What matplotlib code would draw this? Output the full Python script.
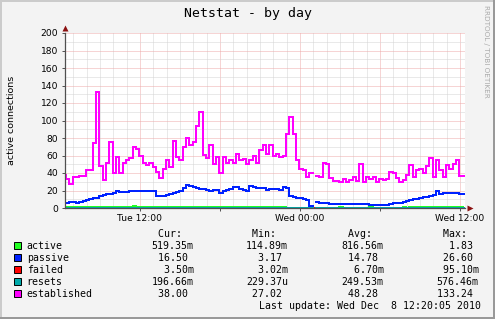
import numpy as np
import pandas as pd
import matplotlib
matplotlib.use("Agg")
import matplotlib.pyplot as plt
import matplotlib.dates as mdates
from matplotlib.ticker import MultipleLocator, FuncFormatter
from matplotlib.patches import Rectangle

# -----------------------------
# Data (15 minute samples)
# -----------------------------
start = "2010-12-07 06:20"
nan = np.nan

established = [
    38, 33, 28, 36, 36, 37, 37, 43, 44, 74,
    133, 48, 32, 52, 76, 40, 58, 40, 51, 55,
    57, 70, 68, 60, 51, 49, 52, 47, 41, 34,
    45, 55, 47, 77, 58, 55, 70, 80, 72, 76,
    94, 110, 61, 57, 72, 50, 58, 40, 58, 52,
    55, 52, 62, 55, 56, 50, 55, 60, 52, 66,
    72, 62, 72, 60, 62, 58, 60, 85, 104, 85,
    55, 45, 43, 36, 40, nan, 37, 35, 52, 50,
    34, 31, 31, 30, 33, 30, 32, 35, 31, 50,
    30, 35, 33, 36, 30, 33, 32, 33, 41, 40,
    34, 30, 32, 38, 49, 36, 43, 45, 40, 48,
    57, 36, 55, 44, 36, 49, 45, 50, 55, 37, 37,
]

passive = [
    5.5, 5.5, 6.5, 6.5, 6.0, 6.5, 7.5, 9.0, 10.0, 11.5,
    12.0, 14.0, 14.5, 16.0, 16.0, 17.5, 19.0, 18.5, 18.0, 18.5,
    19.5, 20.0, 19.5, 20.0, 19.5, 20.0, 19.5, 19.0, 14.0, 14.0,
    14.0, 15.0, 16.5, 17.5, 18.5, 20.0, 23.0, 26.0, 25.5, 24.0,
    23.0, 22.0, 22.0, 20.5, 20.0, 21.0, 20.5, 17.0, 20.0, 21.0,
    22.0, 23.5, 23.5, 22.0, 20.5, 20.0, 25.0, 24.5, 22.5, 23.0,
    22.5, 21.0, 22.0, 21.5, 22.0, 21.0, 23.5, 23.0, 13.5, 12.5,
    11.5, 11.0, 10.5, 9.5, 2.0, nan, 6.5, 6.0, 5.5, 5.3,
    5.0, 4.6, 4.6, 5.0, 4.6, 5.0, 4.6, 5.0, 4.6, 5.0,
    4.6, 4.6, 4.0, 3.4, 3.4, 3.4, 3.4, 3.4, 4.6, 5.3,
    5.7, 5.7, 6.5, 7.6, 9.0, 10.3, 10.5, 11.4, 12.2, 13.0,
    14.0, 15.2, 19.5, 16.0, 17.6, 17.6, 17.0, 17.0, 17.0, 16.0, 15.5,
]

active = [
    0.6, 0.6, 0.7, 0.6, 0.6, 0.7, 0.6, 0.6, 0.7, 0.6,
    0.7, 0.6, 0.6, 0.7, 0.6, 0.6, 0.7, 0.6, 0.6, 0.7,
    0.6, 1.8, 0.6, 0.7, 0.6, 0.6, 0.7, 0.6, 0.6, 0.7,
    0.6, 0.6, 0.7, 0.6, 0.6, 0.7, 0.6, 0.6, 0.7, 0.6,
    0.7, 0.6, 0.6, 0.7, 0.6, 0.6, 0.7, 0.6, 0.6, 0.7,
    1.5, 0.6, 0.6, 0.7, 0.6, 0.6, 0.7, 0.6, 0.6, 0.7,
    0.6, 0.9, 0.9, 0.8, 0.9, 0.9, 0.8, 0.4, 0.3, 0.3,
    0.3, 0.2, 0.2, 0.3, 0.2, nan, 0.2, 0.3, 0.2, 0.2,
    0.3, 0.2, 0.2, 1.2, 0.2, 0.3, 0.2, 0.2, 0.3, 0.2,
    0.2, 0.3, 1.0, 0.2, 0.2, 0.3, 0.2, 0.2, 0.3, 0.2,
    0.2, 0.3, 1.0, 0.2, 0.9, 0.9, 0.8, 0.9, 0.9, 0.8,
    0.9, 0.9, 0.8, 0.9, 0.9, 0.8, 0.9, 0.9, 0.8, 0.9, 0.5,
]

failed = [0.0] * 121

resets = [
    0.2, 0.3, 0.2, 0.2, 0.3, 0.2, 0.2, 0.3, 0.2, 0.2,
    0.3, 0.2, 0.2, 0.3, 0.2, 0.2, 0.3, 0.2, 0.2, 0.3,
    0.2, 0.2, 0.3, 0.2, 0.2, 0.3, 0.2, 0.2, 0.3, 0.2,
    0.2, 0.3, 0.2, 0.2, 0.3, 0.2, 0.2, 0.3, 0.2, 0.2,
    0.3, 0.2, 0.2, 0.3, 0.2, 0.2, 0.3, 0.2, 0.2, 0.3,
    0.2, 0.2, 0.3, 0.2, 0.2, 0.3, 0.2, 0.2, 0.3, 0.2,
    0.2, 0.3, 0.2, 0.2, 0.3, 0.2, 0.2, 0.3, 0.4, 0.5,
    0.4, 0.4, 0.5, 0.4, 0.4, nan, 0.4, 0.5, 0.4, 0.4,
    0.5, 0.4, 0.4, 0.5, 0.4, 0.4, 0.5, 0.4, 0.4, 0.5,
    0.4, 0.4, 0.5, 0.4, 0.4, 0.5, 0.4, 0.4, 0.5, 0.4,
    0.4, 0.5, 0.4, 0.2, 0.2, 0.3, 0.2, 0.2, 0.3, 0.2,
    0.2, 0.3, 0.2, 0.2, 0.3, 0.2, 0.2, 0.3, 0.2, 0.2, 0.2,
]

series_names = ["active", "passive", "failed", "resets", "established"]
series_colors = ["#22ff22", "#0022ff", "#ff0000", "#00aaaa", "#ff00ff"]
series_values = [active, passive, failed, resets, established]

stat_cur = ["519.35m", " 16.50 ", "  3.50m", "196.66m", " 38.00 "]
stat_min = ["114.89m", "  3.17 ", "  3.02m", "229.37u", " 27.02 "]
stat_avg = ["816.56m", " 14.78 ", "  6.70m", "249.53m", " 48.28 "]
stat_max = ["  1.83 ", " 26.60 ", " 95.10m", "576.46m", "133.24 "]
stat_heads = [" Cur:", " Min:", " Avg:", " Max:"]

times = pd.date_range(start, periods=len(established), freq="15min").to_pydatetime()
x_start = pd.Timestamp("2010-12-07 06:22:30").to_pydatetime()
x_end = pd.Timestamp("2010-12-08 12:22:30").to_pydatetime()

# -----------------------------
# Figure
# -----------------------------
W, H = 495, 319
fig = plt.figure(figsize=(W / 100, H / 100), dpi=100, facecolor="#f3f3f3")

# rrdtool style shaded frame
fig.patches.append(Rectangle((0, 0), 1, 2 / H, transform=fig.transFigure,
                             facecolor="#999999", edgecolor="none"))
fig.patches.append(Rectangle((1 - 2 / W, 0), 2 / W, 1, transform=fig.transFigure,
                             facecolor="#999999", edgecolor="none"))
fig.patches.append(Rectangle((0, 1 - 2 / H), 1 - 2 / W, 2 / H, transform=fig.transFigure,
                             facecolor="#cbcbcb", edgecolor="none"))
fig.patches.append(Rectangle((0, 2 / H), 2 / W, 1 - 2 / H, transform=fig.transFigure,
                             facecolor="#cbcbcb", edgecolor="none"))

ax = fig.add_axes([65 / W, (H - 208) / H, 400 / W, 175 / H])
ax.set_facecolor("white")

for name, col, vals in zip(series_names, series_colors, series_values):
    ax.plot(times, vals, color=col, lw=1.44, drawstyle="steps-mid",
            solid_joinstyle="miter")

ax.set_xlim(x_start, x_end)
ax.set_ylim(0, 200)

# grid
ax.yaxis.set_major_locator(MultipleLocator(20))
ax.yaxis.set_minor_locator(MultipleLocator(10))
ax.xaxis.set_major_locator(mdates.HourLocator(byhour=[0, 6, 12, 18]))
ax.xaxis.set_minor_locator(mdates.HourLocator())


def fmt_time(x, pos):
    d = mdates.num2date(x)
    if d.hour in (0, 12):
        return d.strftime("%a %H:%M")
    return ""


ax.xaxis.set_major_formatter(FuncFormatter(fmt_time))
ax.set_axisbelow(True)
dots = (0, (1, 1))
ax.grid(which="minor", color="#d4d4d4", ls=dots, lw=0.72)
ax.grid(which="major", color="#eeaaaa", ls=dots, lw=0.72)

for s in ["top", "right"]:
    ax.spines[s].set_visible(False)
for s in ["left", "bottom"]:
    ax.spines[s].set_color("#505050")
    ax.spines[s].set_linewidth(0.9)

ax.tick_params(which="both", colors="#505050", labelcolor="black",
               labelsize=6.6, width=0.7)
ax.tick_params(axis="y", which="major", length=2, pad=3)
ax.tick_params(axis="y", which="minor", length=0)
ax.tick_params(axis="x", which="major", length=2, pad=2)
ax.tick_params(axis="x", which="minor", length=0)

# axis arrows
ax.plot([0], [1.026], marker="^", ms=4, color="#8b1010", mec="none",
        transform=ax.transAxes, clip_on=False)
ax.plot([1.0125], [0], marker=">", ms=4, color="#8b1010", mec="none",
        transform=ax.transAxes, clip_on=False)

# -----------------------------
# Texts
# -----------------------------
mono = "DejaVu Sans Mono"
fig.text(247.5 / W, 1 - 13 / H, "Netstat - by day", family=mono, size=9.5,
         ha="center", va="center")
fig.text(12 / W, 1 - 120 / H, "active connections", size=6.8, rotation=90,
         ha="center", va="center")
fig.text(486 / W, 1 - 5 / H, "RRDTOOL / TOBI OETIKER", size=5.2, rotation=-90,
         ha="center", va="top", color="#aaaaaa")

col_x = [151.7, 246.0, 341.7, 436.7]
fs = 7.1
base0 = 236.7
for cx, head in zip(col_x, stat_heads):
    fig.text(cx / W, 1 - base0 / H, head, family=mono, size=fs, va="baseline")

for k, (name, col) in enumerate(zip(series_names, series_colors)):
    yb = base0 + 12 * (k + 1)
    fig.patches.append(Rectangle((13.5 / W, 1 - (yb + 0.5) / H), 7 / W, 7 / H,
                                 transform=fig.transFigure, facecolor=col,
                                 edgecolor="black", lw=0.7))
    fig.text(26.7 / W, 1 - yb / H, name, family=mono, size=fs, va="baseline")
    row = [stat_cur[k], stat_min[k], stat_avg[k], stat_max[k]]
    for cx, val in zip(col_x, row):
        fig.text(cx / W, 1 - yb / H, val, family=mono, size=fs, va="baseline")

fig.text(259.3 / W, 1 - (base0 + 72) / H, "Last update: Wed Dec  8 12:20:05 2010",
         family=mono, size=fs, va="baseline")

fig.savefig("out.png", dpi=100, facecolor=fig.get_facecolor())
